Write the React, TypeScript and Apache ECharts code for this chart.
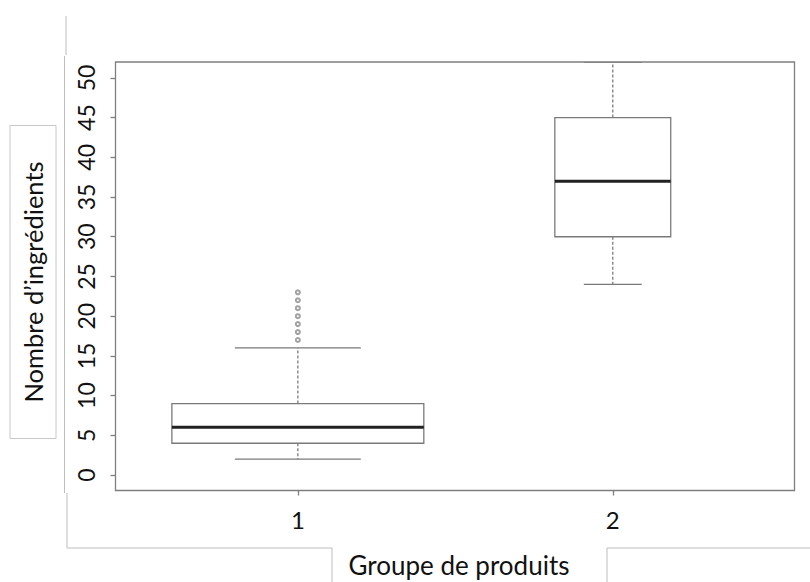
import React, { useEffect, useRef } from "react";
import * as echarts from "echarts";

// Boxplot statistics per product group
const groups = ["1", "2"];
const groupPositions = [1, 2];
const whiskerLow = [2, 24];
const quartile1 = [4, 30];
const medians = [6, 37];
const quartile3 = [9, 45];
const whiskerHigh = [16, 52];
// Outliers above the upper whisker of group 1
const outliersGroup1 = [17, 18, 19, 20, 21, 22, 23];
const yTickValues = [0, 5, 10, 15, 20, 25, 30, 35, 40, 45, 50];

// Half box widths in axis units (variable width boxes)
const BOX_HALF_WIDTH = [0.4, 0.184];
const FONT = "Lato, 'Open Sans', sans-serif";
const BOX_COLOR = "#7a7a7a";

export default function App() {
  const ref = useRef<HTMLDivElement>(null);

  useEffect(() => {
    if (!ref.current) return;
    const chart = echarts.init(ref.current, undefined, { renderer: "svg" });

    const boxData = groupPositions.map((x, i) => [
      x,
      whiskerLow[i],
      quartile1[i],
      medians[i],
      quartile3[i],
      whiskerHigh[i],
    ]);

    const renderBox = (params: any, api: any) => {
      const i = params.dataIndex;
      const x = api.value(0);
      const lo = api.value(1);
      const q1 = api.value(2);
      const med = api.value(3);
      const q3 = api.value(4);
      const hi = api.value(5);
      const hw = BOX_HALF_WIDTH[i];
      const tl = api.coord([x - hw, q3]);
      const br = api.coord([x + hw, q1]);
      const mL = api.coord([x - hw, med]);
      const mR = api.coord([x + hw, med]);
      const c = api.coord([x, 0])[0];
      const yLo = api.coord([x, lo])[1];
      const yHi = api.coord([x, hi])[1];
      const capL = api.coord([x - hw / 2, 0])[0];
      const capR = api.coord([x + hw / 2, 0])[0];
      const solid = { stroke: BOX_COLOR, lineWidth: 1.3, fill: null };
      const dashed = { stroke: BOX_COLOR, lineWidth: 1.3, lineDash: [3, 2], fill: null };
      return {
        type: "group",
        children: [
          { type: "line", shape: { x1: c, y1: tl[1], x2: c, y2: yHi }, style: dashed },
          { type: "line", shape: { x1: c, y1: br[1], x2: c, y2: yLo }, style: dashed },
          { type: "line", shape: { x1: capL, y1: yHi, x2: capR, y2: yHi }, style: solid },
          { type: "line", shape: { x1: capL, y1: yLo, x2: capR, y2: yLo }, style: solid },
          {
            type: "rect",
            shape: { x: tl[0], y: tl[1], width: br[0] - tl[0], height: br[1] - tl[1] },
            style: { stroke: BOX_COLOR, lineWidth: 1.3, fill: "#ffffff" },
          },
          {
            type: "line",
            shape: { x1: mL[0], y1: mL[1], x2: mR[0], y2: mR[1] },
            style: { stroke: "#222222", lineWidth: 3 },
          },
        ],
      };
    };

    const frame = { stroke: "#bdbdbd", lineWidth: 1 };

    chart.setOption({
      animation: false,
      backgroundColor: "#ffffff",
      grid: {
        left: 115.5,
        top: 62,
        width: 679,
        height: 428.5,
        show: true,
        borderColor: "#7f7f7f",
        borderWidth: 1.3,
        backgroundColor: "transparent",
      },
      xAxis: {
        type: "value",
        min: 0.421,
        max: 2.577,
        splitLine: { show: false },
        axisLine: { show: false, onZero: false },
        axisTick: {
          show: true,
          customValues: groupPositions,
          length: 5,
          lineStyle: { color: "#7f7f7f", width: 1.3 },
        },
        axisLabel: {
          customValues: groupPositions,
          formatter: (v: number) => groups[groupPositions.indexOf(v)] ?? "",
          fontFamily: FONT,
          fontSize: 24,
          color: "#111111",
          margin: 17,
        },
      },
      yAxis: {
        type: "value",
        min: -1.95,
        max: 52.0,
        splitLine: { show: false },
        axisLine: { show: false, onZero: false },
        axisTick: {
          show: true,
          customValues: yTickValues,
          length: 5,
          lineStyle: { color: "#7f7f7f", width: 1.3 },
        },
        axisLabel: {
          customValues: yTickValues,
          rotate: 90,
          fontFamily: FONT,
          fontSize: 23,
          color: "#111111",
          margin: 18,
        },
      },
      series: [
        {
          type: "custom",
          renderItem: renderBox,
          data: boxData,
          clip: true,
          encode: { x: 0, y: [1, 2, 3, 4, 5] },
        },
        {
          type: "scatter",
          data: outliersGroup1.map((v) => [groupPositions[0], v]),
          symbol: "emptyCircle",
          symbolSize: 4,
          itemStyle: { color: "#8a8a8a", borderColor: "#8a8a8a", borderWidth: 1 },
          z: 5,
        },
      ],
      graphic: [
        // slide frame remnants around the plot
        { type: "line", shape: { x1: 66, y1: 16, x2: 66, y2: 55 }, style: frame },
        { type: "line", shape: { x1: 64.5, y1: 56, x2: 64.5, y2: 493 }, style: frame },
        { type: "line", shape: { x1: 67, y1: 493, x2: 67, y2: 548 }, style: frame },
        { type: "line", shape: { x1: 67, y1: 548, x2: 332, y2: 548 }, style: frame },
        { type: "line", shape: { x1: 332, y1: 548, x2: 332, y2: 582 }, style: frame },
        { type: "line", shape: { x1: 607, y1: 548, x2: 607, y2: 582 }, style: frame },
        { type: "line", shape: { x1: 607, y1: 548, x2: 810, y2: 548 }, style: frame },
        // y axis title box
        {
          type: "rect",
          shape: { x: 10, y: 125.5, width: 46, height: 313 },
          style: { stroke: "#c8c8c8", lineWidth: 1, fill: "#ffffff" },
        },
        {
          type: "text",
          x: 33,
          y: 282,
          rotation: Math.PI / 2,
          style: {
            text: "Nombre d’ingrédients",
            fontFamily: FONT,
            fontSize: 25.5,
            fill: "#111111",
            align: "center",
            verticalAlign: "middle",
          },
        },
        {
          type: "text",
          x: 459,
          y: 565,
          style: {
            text: "Groupe de produits",
            fontFamily: FONT,
            fontSize: 26,
            fill: "#111111",
            align: "center",
            verticalAlign: "middle",
          },
        },
      ],
    });

    return () => chart.dispose();
  }, []);

  return (
    <div
      ref={ref}
      style={{ position: "absolute", left: 0, top: 0, width: 810, height: 582 }}
    />
  );
}
